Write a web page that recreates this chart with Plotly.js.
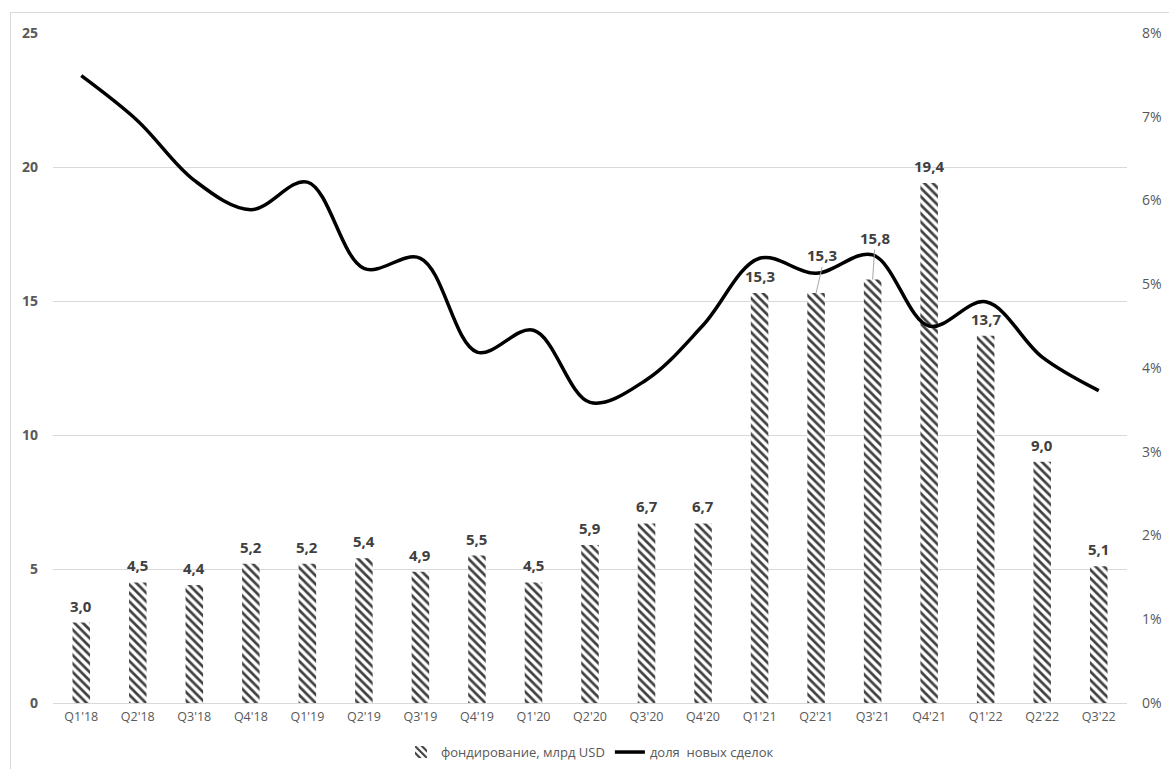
<!DOCTYPE html>
<html>
<head>
<meta charset="utf-8">
<script src="https://cdn.plot.ly/plotly-3.0.1.min.js"></script>
<style>
html,body{margin:0;padding:0;background:#fff;overflow:hidden;}
#frame{position:absolute;left:10px;top:12px;width:1300px;height:900px;border:1px solid #d9d9d9;}
#chart{position:absolute;left:0;top:0;width:1169px;height:769px;}
</style>
</head>
<body>
<div id="frame"></div>
<div id="chart"></div>
<script>
const quarters = ["Q1'18","Q2'18","Q3'18","Q4'18","Q1'19","Q2'19","Q3'19","Q4'19","Q1'20","Q2'20","Q3'20","Q4'20","Q1'21","Q2'21","Q3'21","Q4'21","Q1'22","Q2'22","Q3'22"];
const funding = [3.0,4.5,4.4,5.2,5.2,5.4,4.9,5.5,4.5,5.9,6.7,6.7,15.3,15.3,15.8,19.4,13.7,9.0,5.1];
const newDealsShare = [0.0749,0.0695,0.0624,0.0589,0.0622,0.0519,0.0531,0.0419,0.0445,0.0359,0.0386,0.0451,0.0531,0.0513,0.0535,0.0450,0.0479,0.0413,0.0373];
const fundingName = "фондирование, млрд USD";
const shareName = "доля  новых сделок";
const movedLabels = {13: [6, -26], 14: [2, -30]};

const fmt = v => v.toFixed(1).replace('.', ',');
const labelFont = {family: 'Open Sans, sans-serif', size: 15, color: '#404040', weight: 'bold'};

const traces = [
  {
    type: 'bar', x: quarters, y: funding, name: fundingName,
    marker: {color: '#ffffff', line: {width: 0},
      pattern: {shape: '\\', fgcolor: '#404040', bgcolor: '#ffffff', size: 6, solidity: 0.45}},
    hoverinfo: 'x+y'
  },
  {
    type: 'scatter', mode: 'lines', x: quarters, y: newDealsShare, name: shareName, yaxis: 'y2',
    line: {color: '#000000', width: 3.5, shape: 'spline', smoothing: 1}
  }
];

const annotations = funding.map((v, i) => {
  if (i in movedLabels) {
    return {
      x: quarters[i], y: v, xref: 'x', yref: 'y',
      text: fmt(v), showarrow: true, arrowhead: 0, arrowwidth: 1,
      arrowcolor: '#a6a6a6', ax: movedLabels[i][0], ay: movedLabels[i][1], standoff: 0,
      font: labelFont, yanchor: 'bottom'
    };
  }
  return {
    x: quarters[i], y: v, xref: 'x', yref: 'y', text: fmt(v), showarrow: false,
    yanchor: 'bottom', yshift: 5, font: labelFont
  };
});

const layout = {
  width: 1169, height: 769,
  margin: {l: 53, r: 42, t: 33, b: 66, autoexpand: false},
  paper_bgcolor: 'rgba(0,0,0,0)', plot_bgcolor: 'rgba(0,0,0,0)',
  font: {family: 'Open Sans, sans-serif', color: '#595959', size: 12},
  bargap: 0.69,
  showlegend: true,
  legend: {orientation: 'h', x: 0.5, xanchor: 'center', yref: 'container', y: 0.022, yanchor: 'middle',
    font: {size: 13, color: '#595959'}, traceorder: 'normal'},
  xaxis: {type: 'category', showgrid: false, zeroline: false, showline: false, automargin: false,
    ticks: '', tickfont: {size: 12.5, color: '#595959'}, ticklabelstandoff: 4},
  yaxis: {range: [0, 25], dtick: 5, showgrid: true, gridcolor: '#d9d9d9', gridwidth: 1, automargin: false,
    zeroline: true, zerolinecolor: '#d9d9d9', showline: false, ticks: '',
    tickfont: {size: 14, color: '#595959', weight: 'bold'}, ticklabelstandoff: 14},
  yaxis2: {overlaying: 'y', side: 'right', range: [0, 0.08], dtick: 0.01, tickformat: '.0%', automargin: false,
    showgrid: false, zeroline: false, showline: false, ticks: '',
    tickfont: {size: 14, color: '#595959'}, ticklabelstandoff: 14},
  annotations: annotations
};

Plotly.newPlot('chart', traces, layout, {displayModeBar: false, staticPlot: true});
</script>
</body>
</html>
